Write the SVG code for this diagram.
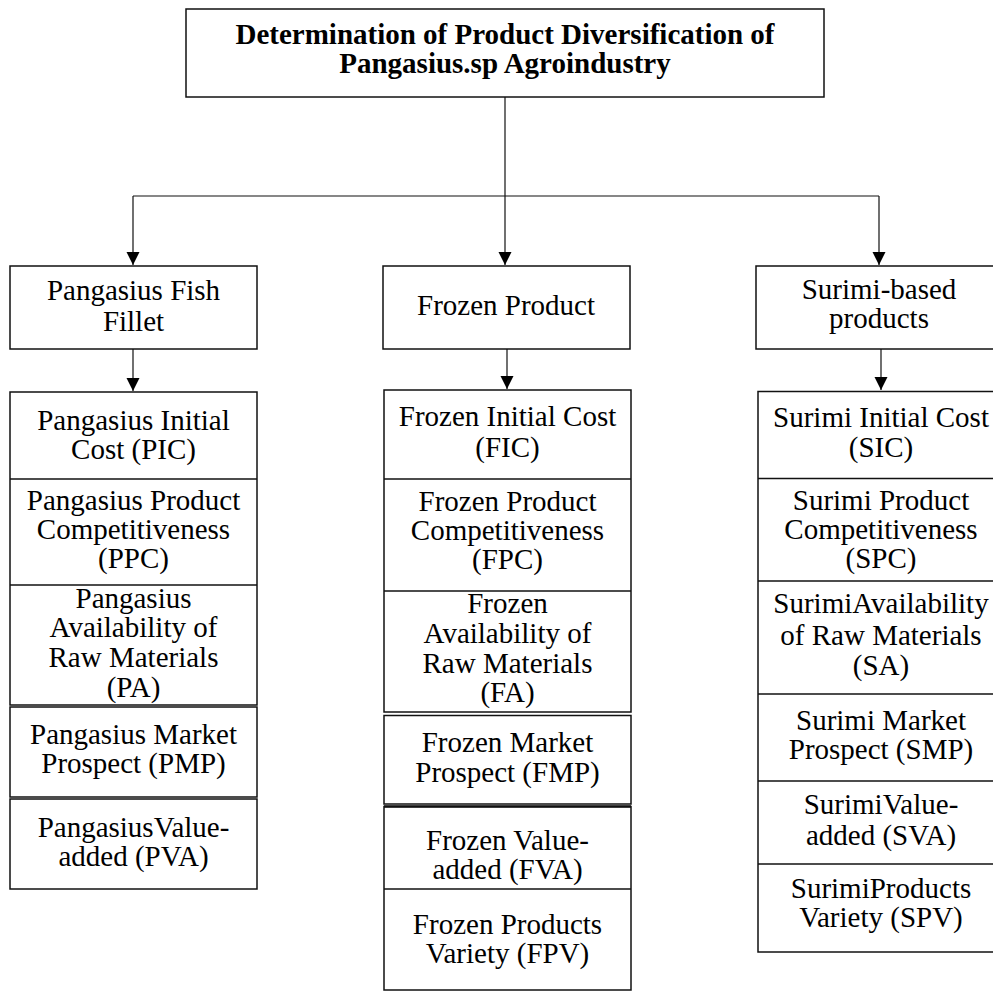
<svg xmlns="http://www.w3.org/2000/svg" width="993" height="992" viewBox="0 0 993 992">
<defs>
<style>
.box{fill:#fff;stroke:#111;stroke-width:1.5}
.div{stroke:#111;stroke-width:1.5}
.con{fill:none;stroke:#111;stroke-width:1.2}
.t{font-family:"Liberation Serif","Times New Roman",serif;font-size:29px;fill:#000;text-anchor:middle}
.tb{font-family:"Liberation Serif","Times New Roman",serif;font-size:29px;font-weight:bold;fill:#000;text-anchor:middle}
</style>
<marker id="ah" markerUnits="userSpaceOnUse" markerWidth="13" markerHeight="14" refX="13" refY="6.5" orient="auto">
<path d="M0,0 L13,6.5 L0,13 Z" fill="#000"/>
</marker>
</defs>
<rect width="993" height="992" fill="#fff"/>

<g id="connectors">
<path class="con" d="M505,97 V196"/>
<path class="con" d="M133,196 H879"/>
<path class="con" d="M133,196 V265" marker-end="url(#ah)"/>
<path class="con" d="M505,196 V265" marker-end="url(#ah)"/>
<path class="con" d="M879,196 V265" marker-end="url(#ah)"/>
<path class="con" d="M133,349 V391" marker-end="url(#ah)"/>
<path class="con" d="M507,349 V389" marker-end="url(#ah)"/>
<path class="con" d="M881,349 V390" marker-end="url(#ah)"/>
</g>

<g id="title">
<rect class="box" x="186" y="9" width="638" height="88"/>
<text class="tb" x="505" y="44">Determination of Product Diversification of</text>
<text class="tb" x="505" y="73">Pangasius.sp Agroindustry</text>
</g>

<g id="fillet">
<rect class="box" x="10" y="266" width="247" height="83"/>
<text class="t" x="133.5" y="300">Pangasius Fish</text>
<text class="t" x="133.5" y="331">Fillet</text>
</g>
<g id="frozen">
<rect class="box" x="383" y="266" width="247" height="83"/>
<text class="t" x="506" y="315">Frozen Product</text>
</g>
<g id="surimi">
<rect class="box" x="756" y="266" width="250" height="83"/>
<text class="t" x="879" y="299">Surimi-based</text>
<text class="t" x="879" y="328">products</text>
</g>

<!-- Left column -->
<g id="left-stack">
<rect class="box" x="10" y="392" width="247" height="313"/>
<line class="div" x1="10" y1="479" x2="257" y2="479"/>
<line class="div" x1="10" y1="585" x2="257" y2="585"/>
</g>
<g id="PIC">
<text class="t" x="133.5" y="430">Pangasius Initial</text>
<text class="t" x="133.5" y="459">Cost (PIC)</text>
</g>
<g id="PPC">
<text class="t" x="133.5" y="510">Pangasius Product</text>
<text class="t" x="133.5" y="539">Competitiveness</text>
<text class="t" x="133.5" y="568">(PPC)</text>
</g>
<g id="PA">
<text class="t" x="133.5" y="608">Pangasius</text>
<text class="t" x="133.5" y="637">Availability of</text>
<text class="t" x="133.5" y="667">Raw Materials</text>
<text class="t" x="133.5" y="697">(PA)</text>
</g>
<g id="PMP">
<rect class="box" x="10" y="707" width="247" height="90"/>
<text class="t" x="133.5" y="744">Pangasius Market</text>
<text class="t" x="133.5" y="773">Prospect (PMP)</text>
</g>
<g id="PVA">
<rect class="box" x="10" y="799" width="247" height="90"/>
<text class="t" x="133.5" y="837">PangasiusValue-</text>
<text class="t" x="133.5" y="866">added (PVA)</text>
</g>

<!-- Middle column -->
<g id="mid-stack">
<rect class="box" x="384" y="390" width="247" height="322"/>
<line class="div" x1="384" y1="479" x2="631" y2="479"/>
<line class="div" x1="384" y1="591" x2="631" y2="591"/>
</g>
<g id="FIC">
<text class="t" x="507.5" y="426">Frozen Initial Cost</text>
<text class="t" x="507.5" y="457">(FIC)</text>
</g>
<g id="FPC">
<text class="t" x="507.5" y="511">Frozen Product</text>
<text class="t" x="507.5" y="540">Competitiveness</text>
<text class="t" x="507.5" y="569">(FPC)</text>
</g>
<g id="FA">
<text class="t" x="507.5" y="613">Frozen</text>
<text class="t" x="507.5" y="643">Availability of</text>
<text class="t" x="507.5" y="673">Raw Materials</text>
<text class="t" x="507.5" y="702">(FA)</text>
</g>
<g id="FMP">
<rect class="box" x="384" y="715.5" width="247" height="88.5"/>
<text class="t" x="507.5" y="752">Frozen Market</text>
<text class="t" x="507.5" y="782">Prospect (FMP)</text>
</g>
<g id="FVA-FPV">
<rect class="box" x="384" y="806.5" width="247" height="183.5"/>
<line class="div" x1="384" y1="806.5" x2="631" y2="806.5" style="stroke-width:2.5"/>
<line class="div" x1="384" y1="889" x2="631" y2="889"/>
</g>
<g id="FVA">
<text class="t" x="507.5" y="850">Frozen Value-</text>
<text class="t" x="507.5" y="879">added (FVA)</text>
</g>
<g id="FPV">
<text class="t" x="507.5" y="934">Frozen Products</text>
<text class="t" x="507.5" y="963">Variety (FPV)</text>
</g>

<!-- Right column -->
<g id="right-stack">
<rect class="box" x="758" y="391.5" width="248" height="560.5"/>
<line class="div" x1="758" y1="478.5" x2="1006" y2="478.5"/>
<line class="div" x1="758" y1="581" x2="1006" y2="581"/>
<line class="div" x1="758" y1="694" x2="1006" y2="694"/>
<line class="div" x1="758" y1="781" x2="1006" y2="781"/>
<line class="div" x1="758" y1="864" x2="1006" y2="864"/>
</g>
<g id="SIC">
<text class="t" x="881" y="427">Surimi Initial Cost</text>
<text class="t" x="881" y="457">(SIC)</text>
</g>
<g id="SPC">
<text class="t" x="881" y="510">Surimi Product</text>
<text class="t" x="881" y="539">Competitiveness</text>
<text class="t" x="881" y="568">(SPC)</text>
</g>
<g id="SA">
<text class="t" x="881" y="613">SurimiAvailability</text>
<text class="t" x="881" y="645">of Raw Materials</text>
<text class="t" x="881" y="675">(SA)</text>
</g>
<g id="SMP">
<text class="t" x="881" y="730">Surimi Market</text>
<text class="t" x="881" y="759">Prospect (SMP)</text>
</g>
<g id="SVA">
<text class="t" x="881" y="814">SurimiValue-</text>
<text class="t" x="881" y="845">added (SVA)</text>
</g>
<g id="SPV">
<text class="t" x="881" y="898">SurimiProducts</text>
<text class="t" x="881" y="927">Variety (SPV)</text>
</g>
</svg>
